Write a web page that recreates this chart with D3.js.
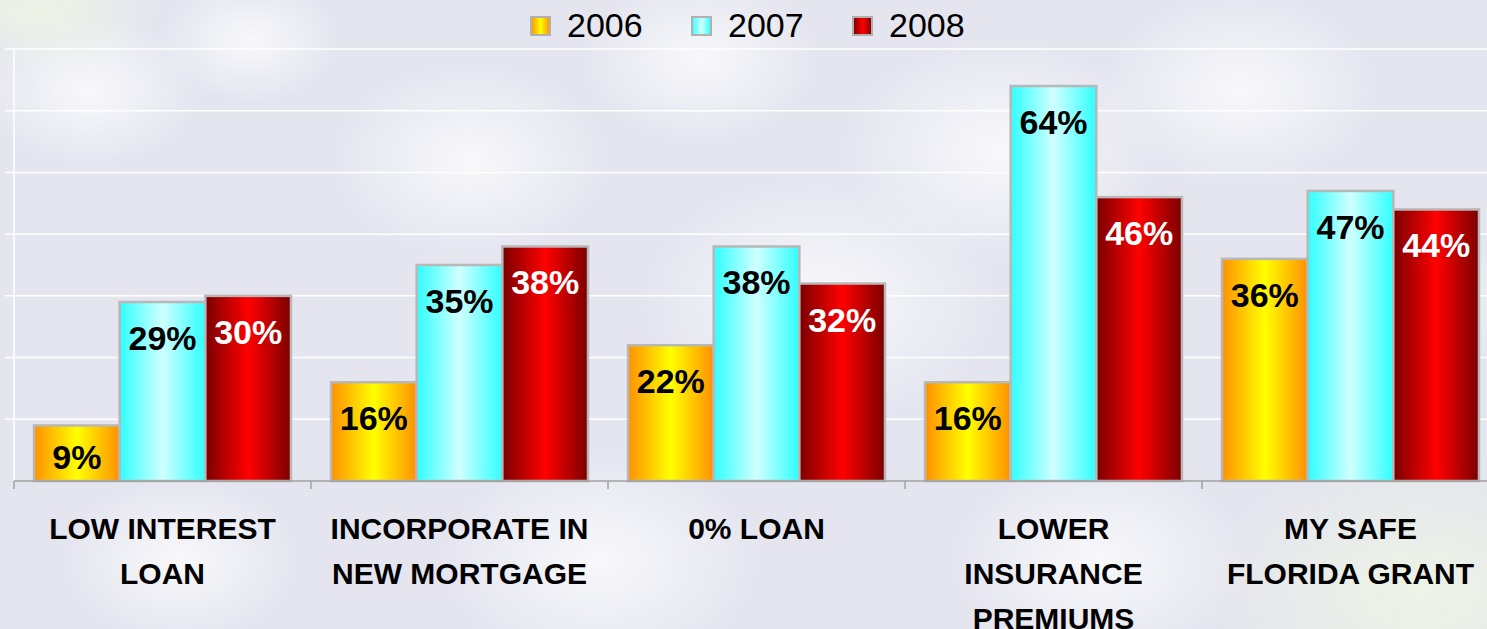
<!DOCTYPE html>
<html>
<head>
<meta charset="utf-8">
<script src="https://cdn.jsdelivr.net/npm/d3@7"></script>
<style>
  html, body { margin: 0; padding: 0; background: #e6e7f0; }
  svg { display: block; font-family: Arial, "Liberation Sans", sans-serif; }
</style>
</head>
<body>
<div id="chart"></div>
<script>
const WIDTH = 1487;
const HEIGHT = 629;

const categories = [
  ['LOW INTEREST', 'LOAN'],
  ['INCORPORATE IN', 'NEW MORTGAGE'],
  ['0% LOAN'],
  ['LOWER', 'INSURANCE', 'PREMIUMS'],
  ['MY SAFE', 'FLORIDA GRANT']
];
const years = ['2006', '2007', '2008'];
const values2006 = [9, 16, 22, 16, 36];
const values2007 = [29, 35, 38, 64, 47];
const values2008 = [30, 38, 32, 46, 44];
const yTicks = [0, 10, 20, 30, 40, 50, 60, 70];

const seriesValues = [values2006, values2007, values2008];
const gradStops = [
  ['#ff9000', '#ffff00', '#ff9000'],
  ['#30ffff', '#d0ffff', '#30ffff'],
  ['#7a0000', '#ff0000', '#7a0000']
];
const labelColors = ['#000', '#000', '#fff'];

const PLOT = { left: 14, top: 49, bottom: 481, groupW: 297 };

const svg = d3.select('#chart').append('svg')
  .attr('width', WIDTH)
  .attr('height', HEIGHT);

const defs = svg.append('defs');

// soft cloudy background
const bgGrad = defs.append('radialGradient').attr('id', 'cloud');
bgGrad.append('stop').attr('offset', '0%').attr('stop-color', '#ffffff').attr('stop-opacity', 0.75);
bgGrad.append('stop').attr('offset', '100%').attr('stop-color', '#ffffff').attr('stop-opacity', 0);
const greenGrad = defs.append('radialGradient').attr('id', 'greenish');
greenGrad.append('stop').attr('offset', '0%').attr('stop-color', '#eef5e4').attr('stop-opacity', 0.9);
greenGrad.append('stop').attr('offset', '100%').attr('stop-color', '#eef5e4').attr('stop-opacity', 0);

svg.append('rect').attr('width', WIDTH).attr('height', HEIGHT).attr('fill', '#e4e5ef');
const clouds = [
  [90, 90, 110], [250, 40, 90], [470, 160, 140], [700, 60, 120], [820, 300, 180],
  [1000, 150, 160], [1240, 90, 140], [1400, 300, 120], [600, 560, 160], [180, 560, 120], [1100, 560, 150]
];
svg.append('g').selectAll('ellipse').data(clouds).join('ellipse')
  .attr('cx', d => d[0]).attr('cy', d => d[1])
  .attr('rx', d => d[2]).attr('ry', d => d[2] * 0.7)
  .attr('fill', 'url(#cloud)');
svg.append('ellipse').attr('cx', 1420).attr('cy', 590).attr('rx', 220).attr('ry', 140).attr('fill', 'url(#greenish)');
svg.append('ellipse').attr('cx', 40).attr('cy', 10).attr('rx', 120).attr('ry', 60).attr('fill', 'url(#greenish)');

gradStops.forEach((stops, i) => {
  const lg = defs.append('linearGradient').attr('id', `bar${i}`)
    .attr('x1', '0%').attr('x2', '100%').attr('y1', '0%').attr('y2', '0%');
  stops.forEach((c, j) => lg.append('stop').attr('offset', `${j * 50}%`).attr('stop-color', c));
});

const x0 = d3.scaleBand()
  .domain(d3.range(categories.length))
  .range([PLOT.left, PLOT.left + PLOT.groupW * categories.length])
  .padding(0);

const x1 = d3.scaleBand()
  .domain(d3.range(years.length))
  .range([20, x0.bandwidth() - 20])
  .padding(0);

const y = d3.scaleLinear().domain([0, 70]).range([PLOT.bottom, PLOT.top]);

// gridlines
svg.append('g').selectAll('line').data(yTicks.slice(1)).join('line')
  .attr('x1', PLOT.left - 9).attr('x2', WIDTH)
  .attr('y1', d => y(d)).attr('y2', d => y(d))
  .attr('stroke', '#ffffff').attr('stroke-width', 1.5);

// value axis line
svg.append('line')
  .attr('x1', PLOT.left).attr('x2', PLOT.left)
  .attr('y1', y(70)).attr('y2', PLOT.bottom)
  .attr('stroke', '#ffffff').attr('stroke-width', 1.5);

// bars
const groups = svg.append('g').selectAll('g').data(categories).join('g')
  .attr('transform', (d, i) => `translate(${x0(i)},0)`);

groups.each(function (cat, ci) {
  const g = d3.select(this);
  years.forEach((yr, si) => {
    const v = seriesValues[si][ci];
    g.append('rect')
      .attr('x', x1(si))
      .attr('y', y(v))
      .attr('width', x1.bandwidth())
      .attr('height', PLOT.bottom - y(v))
      .attr('fill', `url(#bar${si})`)
      .attr('stroke', '#b8b8b8')
      .attr('stroke-width', 2.5);
    const base = Math.min(y(v) + 48, PLOT.bottom - 12);
    g.append('text')
      .attr('x', x1(si) + x1.bandwidth() / 2)
      .attr('y', base)
      .attr('text-anchor', 'middle')
      .attr('font-size', '34px')
      .attr('font-weight', 'bold')
      .attr('fill', labelColors[si])
      .text(v + '%');
  });
});

// category axis
svg.append('line')
  .attr('x1', PLOT.left).attr('x2', WIDTH)
  .attr('y1', PLOT.bottom).attr('y2', PLOT.bottom)
  .attr('stroke', '#a0a0a0').attr('stroke-width', 1.5);

svg.append('g').selectAll('line').data(d3.range(categories.length)).join('line')
  .attr('x1', d => x0(d)).attr('x2', d => x0(d))
  .attr('y1', PLOT.bottom).attr('y2', PLOT.bottom + 8)
  .attr('stroke', '#a0a0a0').attr('stroke-width', 1.5);

const catLabels = svg.append('g').selectAll('text').data(categories).join('text')
  .attr('text-anchor', 'middle')
  .attr('font-size', '30px')
  .attr('font-weight', 'bold')
  .attr('fill', '#000');

catLabels.each(function (lines, i) {
  const t = d3.select(this);
  lines.forEach((ln, k) => {
    t.append('tspan')
      .attr('x', x0(i) + x0.bandwidth() / 2)
      .attr('y', 539 + k * 45)
      .text(ln);
  });
});

// legend
const legendX = [531, 692, 853];
const legend = svg.append('g').selectAll('g').data(years).join('g')
  .attr('transform', (d, i) => `translate(${legendX[i]},17)`);
legend.append('rect')
  .attr('width', 19).attr('height', 18)
  .attr('fill', (d, i) => `url(#bar${i})`)
  .attr('stroke', '#b0b0b0').attr('stroke-width', 2);
legend.append('text')
  .attr('x', 36).attr('y', 20)
  .attr('font-size', '34px')
  .attr('fill', '#000')
  .text(d => d);
</script>
</body>
</html>
